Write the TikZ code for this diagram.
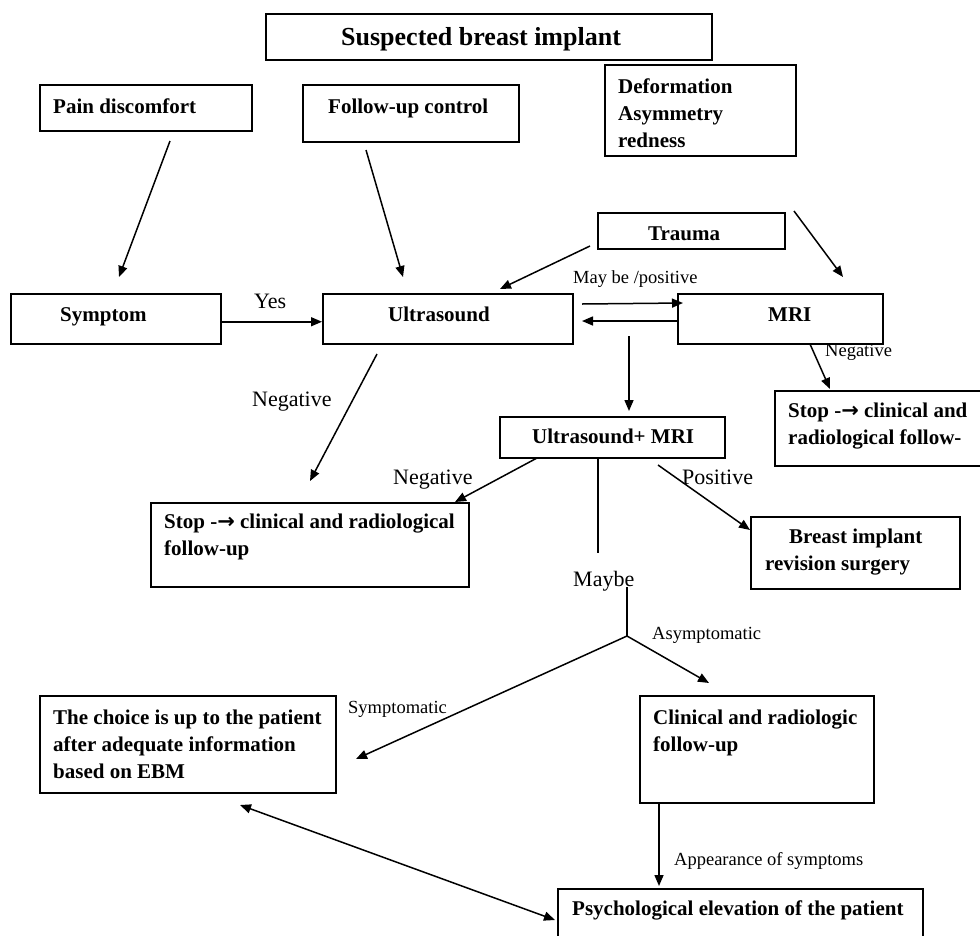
\documentclass[tikz,border=0pt]{standalone}
\usepackage{fontspec}
\setmainfont{Liberation Serif}
\newfontfamily\symfont{DejaVu Sans}
\usetikzlibrary{arrows.meta}
\newcommand{\rarr}{{\symfont →}}
\begin{document}
\begin{tikzpicture}[x=1pt,y=-1pt,
  box/.style={draw, line width=1.5pt, anchor=north west, inner sep=0pt},
  bt/.style={font=\bfseries\fontsize{21}{27}\selectfont, inner sep=0pt, align=left},
  tt/.style={font=\bfseries\fontsize{26}{30}\selectfont, inner sep=0pt, anchor=base west},
  lbig/.style={font=\fontsize{22}{26}\selectfont, inner sep=0pt, anchor=base west},
  lsmall/.style={font=\fontsize{18.5}{22}\selectfont, inner sep=0pt, anchor=base west},
  arr/.style={line width=1.5pt, -{Triangle[length=11pt,width=9pt]}},
  darr/.style={line width=1.5pt, {Triangle[length=11pt,width=9pt]}-{Triangle[length=11pt,width=9pt]}},
  ln/.style={line width=1.5pt}]
\path[use as bounding box, fill=white] (0,0) rectangle (980,935);

% boxes
\node[box, minimum width=446, minimum height=46] (title) at (265,13) {};
\node[box, minimum width=212, minimum height=46] (pain) at (39,84) {};
\node[box, minimum width=216, minimum height=57] (follow) at (302,84) {};
\node[box, minimum width=191, minimum height=91] (deform) at (604,64) {};
\node[box, minimum width=187, minimum height=36] (trauma) at (597,212) {};
\node[box, minimum width=210, minimum height=50] (symptom) at (10,293) {};
\node[box, minimum width=250, minimum height=50] (us) at (322,293) {};
\node[box, minimum width=205, minimum height=50] (mri) at (677,293) {};
\node[box, minimum width=225, minimum height=41] (usmri) at (499,416) {};
\node[box, minimum width=216, minimum height=75] (stopR) at (774,390) {};
\node[box, minimum width=318, minimum height=84] (stopL) at (150,502) {};
\node[box, minimum width=209, minimum height=72] (revision) at (750,516) {};
\node[box, minimum width=296, minimum height=97] (choice) at (39,695) {};
\node[box, minimum width=234, minimum height=107] (clinical) at (639,695) {};
\node[box, minimum width=365, minimum height=60] (psych) at (557,888) {};

% box texts
\node[tt] (titleT) at (341,45) {Suspected breast implant};
\node[bt, anchor=base west] (painT) at (53,113) {Pain discomfort};
\node[bt, anchor=base west] (followT) at (328,113) {Follow-up control};
\node[bt, anchor=north west] (deformT) at (618,78.4) {Deformation\\Asymmetry\\redness};
\node[bt, anchor=base west] (traumaT) at (648,240) {Trauma};
\node[bt, anchor=base west] (symptomT) at (60,321) {Symptom};
\node[bt, anchor=base west] (usT) at (388,321) {Ultrasound};
\node[bt, anchor=base west] (mriT) at (768,321) {MRI};
\node[bt, anchor=base west] (usmriT) at (532,443) {Ultrasound+ MRI};
\node[bt, anchor=north west] (stopRT) at (788,403) {Stop -\rarr{} clinical and\\radiological follow-};
\node[bt, anchor=north west] (stopLT) at (164,514) {Stop -\rarr{} clinical and radiological\\follow-up};
\node[bt, anchor=north west] (revisionT) at (765,528.7) {\hspace*{24pt}Breast implant\\revision surgery};
\node[bt, anchor=north west] (choiceT) at (53,709.7) {The choice is up to the patient\\after adequate information\\based on EBM};
\node[bt, anchor=north west] (clinicalT) at (653,709.7) {Clinical and radiologic\\follow-up};
\node[bt, anchor=base west] (psychT) at (572,915) {Psychological elevation of the patient};

% connector end points
\coordinate (p1) at (170,141);  \coordinate (p2) at (119,277);
\coordinate (f1) at (366,150);  \coordinate (f2) at (403,277);
\coordinate (t1) at (590,246);  \coordinate (t2) at (500,289);
\coordinate (t3) at (794,211);  \coordinate (t4) at (843,277);
\coordinate (um1) at (582,304); \coordinate (um2) at (683,303);
\coordinate (mu1) at (677,321); \coordinate (mu2) at (582,321);
\coordinate (d1) at (629,336);  \coordinate (d2) at (629,411);
\coordinate (mn1) at (810,344); \coordinate (mn2) at (830,389);
\coordinate (un1) at (377,354); \coordinate (un2) at (310,481);
\coordinate (cn1) at (537,458); \coordinate (cn2) at (455,502);
\coordinate (mb1) at (598,457); \coordinate (mb2) at (598,553);
\coordinate (j1) at (627,587);  \coordinate (j2) at (627,636);
\coordinate (as2) at (709,683); \coordinate (sy2) at (356,759);
\coordinate (po1) at (658,465); \coordinate (po2) at (750,530);
\coordinate (ap1) at (659,802); \coordinate (ap2) at (659,886);
\coordinate (b1) at (240,805);  \coordinate (b2) at (555,920);

% connectors
\draw[arr] (p1) -- (p2);
\draw[arr] (f1) -- (f2);
\draw[arr] ([yshift=-3pt]symptom.east) -- ([yshift=-3pt]us.west);
\draw[arr] (t1) -- (t2);
\draw[arr] (t3) -- (t4);
\draw[arr] (um1) -- (um2);
\draw[arr] (mu1) -- (mu2);
\draw[arr] (d1) -- (d2);
\draw[arr] (mn1) -- (mn2);
\draw[arr] (un1) -- (un2);
\draw[arr] (cn1) -- (cn2);
\draw[ln] (mb1) -- (mb2);
\draw[ln] (j1) -- (j2);
\draw[arr] (j2) -- (as2);
\draw[arr] (j2) -- (sy2);
\draw[arr] (po1) -- (po2);
\draw[arr] (ap1) -- (ap2);
\draw[darr] (b1) -- (b2);

% connector labels
\node[lbig] (yesL) at (254,308) {Yes};
\node[lsmall] (maybeposL) at (573,283) {May be /positive};
\node[lsmall] (negMriL) at (825,356) {Negative};
\node[lbig] (negUsL) at (252,406) {Negative};
\node[lbig] (negUsMriL) at (393,484) {Negative};
\node[lbig] (posL) at (682,484) {Positive};
\node[lbig] (maybeL) at (573,586) {Maybe};
\node[lsmall] (asymL) at (652,639) {Asymptomatic};
\node[lsmall] (symL) at (348,713) {Symptomatic};
\node[lsmall] (appL) at (674,865) {Appearance of symptoms};
\end{tikzpicture}
\end{document}
